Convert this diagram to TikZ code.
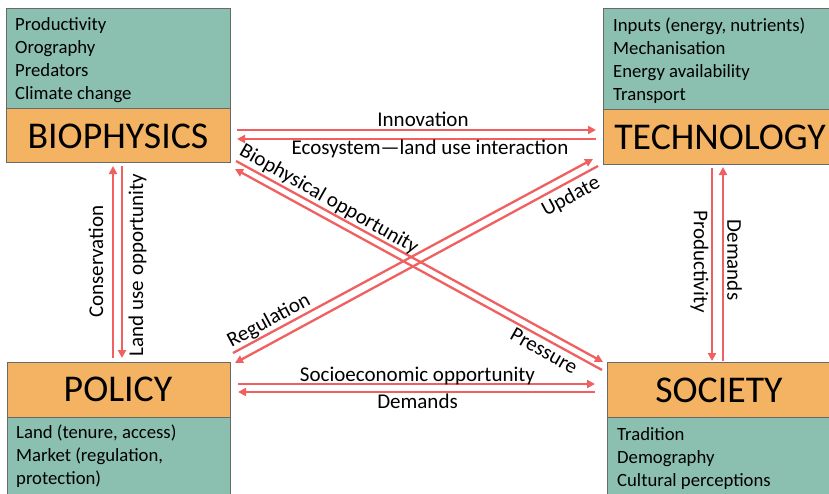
\documentclass[tikz,border=0pt]{standalone}
\usepackage{fontspec}
\setmainfont{Carlito}
\usetikzlibrary{arrows.meta}
\definecolor{boxgreen}{RGB}{139,191,176}
\definecolor{boxorange}{RGB}{243,179,98}
\definecolor{arrred}{RGB}{240,96,96}
\definecolor{edgegray}{RGB}{105,105,105}
\begin{document}
\begin{tikzpicture}[x=1pt,y=-1pt,
  greenbox/.style={draw=edgegray,line width=0.8pt,fill=boxgreen,anchor=north west,inner sep=0,outer sep=0},
  orangebox/.style={draw=edgegray,line width=0.8pt,fill=boxorange,anchor=north west,inner sep=0,outer sep=0},
  titletext/.style={font=\fontsize{37.8}{42}\selectfont,anchor=base,inner sep=0},
  itemtext/.style={font=\fontsize{18.7}{23}\selectfont,anchor=base west,inner sep=0},
  lbl/.style={font=\fontsize{21}{24}\selectfont,inner sep=0},
  arr/.style={draw=arrred,line width=2.3pt,-{Triangle[length=8pt,width=8pt]}}]
\useasboundingbox (0,0) rectangle (829,493);
\clip (0,0) rectangle (829,493);
\fill[white] (0,0) rectangle (829,493);

% boxes
\node[greenbox,minimum width=224pt,minimum height=100pt] (bioG) at (6,8) {};
\node[orangebox,minimum width=224pt,minimum height=54pt] (bioO) at (6,108) {};
\node[greenbox,minimum width=235pt,minimum height=101pt] (techG) at (603,8) {};
\node[orangebox,minimum width=235pt,minimum height=55pt] (techO) at (603,109) {};
\node[orangebox,minimum width=223pt,minimum height=55pt] (polO) at (7,362) {};
\node[greenbox,minimum width=223pt,minimum height=90pt] (polG) at (7,417) {};
\node[orangebox,minimum width=224pt,minimum height=55pt] (socO) at (607,362) {};
\node[greenbox,minimum width=224pt,minimum height=90pt] (socG) at (607,417) {};

% titles
\node[titletext] (bioT) at (118,148) {BIOPHYSICS};
\node[titletext] (techT) at (720,149) {TECHNOLOGY};
\node[titletext] (polT) at (118,401) {POLICY};
\node[titletext] (socT) at (719,402) {SOCIETY};

% item lists
\node[itemtext] (b1) at (15,30.5) {Productivity};
\node[itemtext] (b2) at (15,53.5) {Orography};
\node[itemtext] (b3) at (15,76.5) {Predators};
\node[itemtext] (b4) at (15,99.5) {Climate change};
\node[itemtext] (t1) at (613,31) {Inputs (energy, nutrients)};
\node[itemtext] (t2) at (613,54) {Mechanisation};
\node[itemtext] (t3) at (613,77) {Energy availability};
\node[itemtext] (t4) at (613,100) {Transport};
\node[itemtext] (p1) at (16,438) {Land (tenure, access)};
\node[itemtext] (p2) at (16,461) {Market (regulation,};
\node[itemtext] (p3) at (16,484) {protection)};
\node[itemtext] (s1) at (617,440) {Tradition};
\node[itemtext] (s2) at (617,463) {Demography};
\node[itemtext] (s3) at (617,486) {Cultural perceptions};

% arrow end points
\coordinate (innS) at (237,130); \coordinate (innE) at (596,130);
\coordinate (ecoS) at (596,139); \coordinate (ecoE) at (237,139);
\coordinate (socS) at (238,384); \coordinate (socE) at (595,384);
\coordinate (demS) at (595,392); \coordinate (demE) at (238,392);
\coordinate (conS) at (113,358); \coordinate (conE) at (113,166);
\coordinate (luoS) at (122,166); \coordinate (luoE) at (122,358);
\coordinate (proS) at (712,168); \coordinate (proE) at (712,361);
\coordinate (dmvS) at (723,361); \coordinate (dmvE) at (723,167);
\coordinate (bopS) at (236,161); \coordinate (bopE) at (603,362);
\coordinate (preS) at (602,370); \coordinate (preE) at (235,169);
\coordinate (regS) at (233,353); \coordinate (regE) at (593,159);
\coordinate (updS) at (598,166); \coordinate (updE) at (235,363);

\draw[arr] (innS) -- (innE);
\draw[arr] (ecoS) -- (ecoE);
\draw[arr] (socS) -- (socE);
\draw[arr] (demS) -- (demE);
\draw[arr] (conS) -- (conE);
\draw[arr] (luoS) -- (luoE);
\draw[arr] (proS) -- (proE);
\draw[arr] (dmvS) -- (dmvE);
\draw[arr] (bopS) -- (bopE);
\draw[arr] (preS) -- (preE);
\draw[arr] (regS) -- (regE);
\draw[arr] (updS) -- (updE);

% labels
\node[lbl,anchor=base] (lInn) at (423,126.5) {Innovation};
\node[lbl,anchor=base] (lEco) at (430,154) {Ecosystem—land use interaction};
\node[lbl,anchor=base] (lSoc) at (417.5,381) {Socioeconomic opportunity};
\node[lbl,anchor=base] (lDem) at (417.5,408) {Demands};
\node[lbl,rotate=90] (lCon) at (96,261.5) {Conservation};
\node[lbl,rotate=90] (lLuo) at (137.5,265) {Land use opportunity};
\node[lbl,rotate=-90] (lPro) at (699.5,261.5) {Productivity};
\node[lbl,rotate=-90] (lDmv) at (734.5,260) {Demands};
\node[lbl,rotate=-29.5] (lBop) at (329,199.5) {Biophysical opportunity};
\node[lbl,rotate=-29.5] (lPre) at (544,351) {Pressure};
\node[lbl,rotate=28.5] (lReg) at (269,321) {Regulation};
\node[lbl,rotate=28.5] (lUpd) at (571,197) {Update};
\end{tikzpicture}
\end{document}
